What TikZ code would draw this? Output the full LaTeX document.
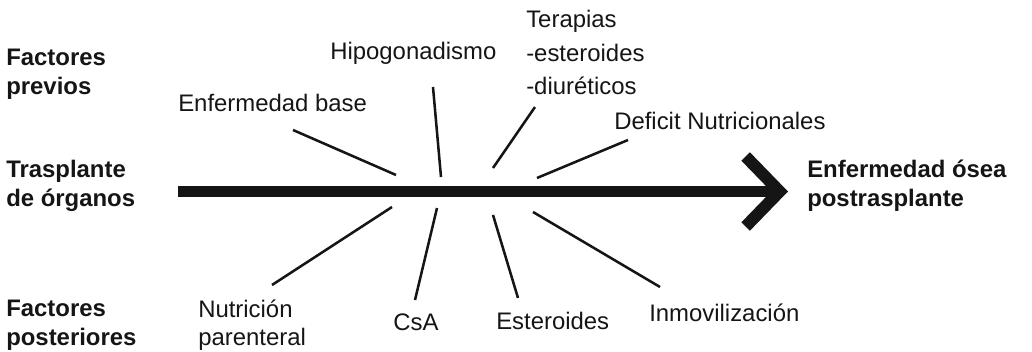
\documentclass[tikz,border=0pt]{standalone}
\usepackage{fontspec}
\setmainfont{Liberation Sans}
\usetikzlibrary{arrows.meta}
\definecolor{ink}{HTML}{151515}
\tikzset{
  every picture/.style={x=0.025cm, y=-0.025cm, line width=1.8pt},
  cause/.style={inner sep=0pt, anchor=base west, text=ink, align=left, font=\fontsize{17}{24}\selectfont},
  group/.style={inner sep=0pt, anchor=base west, text=ink, align=left, font=\fontsize{17}{21}\selectfont\bfseries},
  bone/.style={draw=ink, line width=1.8pt},
  spine/.style={draw=ink, line width=0.27cm, -{Straight Barb[length=0.85cm, width=1.75cm, line width=0.3cm]}},
}

\begin{document}
\begin{tikzpicture}
  \useasboundingbox (0,0) rectangle (1032,352);
  % ---- groups of factors, left, and the outcome, right ----
  \node[group] (prev) at (5,95) {Factores\\previos};
  \node[group] (tras) at (5,207) {Trasplante\\de órganos};
  \node[group] (post) at (5,346) {Factores\\posteriores};
  \node[group] (outc) at (806,207) {Enfermedad ósea\\postrasplante};
  % ---- causes above the spine ----
  \node[cause] (hipo) at (329,60) {Hipogonadismo};
  \node[cause] (enfb) at (177,112) {Enfermedad base};
  \node[cause] (tera) at (525,95) {Terapias\\-esteroides\\-diuréticos};
  \node[cause] (defi) at (613,130) {Deficit Nutricionales};
  % ---- causes below the spine ----
  \node[cause, font=\fontsize{17}{20}\selectfont] (nutr) at (197,346) {Nutrición\\parenteral};
  \node[cause, anchor=base] (csa) at (416,331) {CsA};
  \node[cause] (este) at (495,330) {Esteroides};
  \node[cause] (inmo) at (648,322) {Inmovilización};
  % ---- spine ----
  \coordinate (tail) at (178,191.5);
  \coordinate (head) at (788,191.5);
  \draw[spine] (tail) -- (head);
  % ---- bones ----
  \coordinate (enfb-a) at (293,130); \coordinate (enfb-b) at (396,175);
  \coordinate (hipo-a) at (433,87);  \coordinate (hipo-b) at (441,177);
  \coordinate (tera-a) at (535,107); \coordinate (tera-b) at (493,168);
  \coordinate (defi-a) at (628,140); \coordinate (defi-b) at (537,178);
  \coordinate (nutr-a) at (392,207); \coordinate (nutr-b) at (272,285);
  \coordinate (csa-a) at (437,208);  \coordinate (csa-b) at (415,300);
  \coordinate (este-a) at (493,215); \coordinate (este-b) at (518,298);
  \coordinate (inmo-a) at (533,212); \coordinate (inmo-b) at (660,287);
  \draw[bone] (enfb-a) -- (enfb-b); \draw[bone] (hipo-a) -- (hipo-b);
  \draw[bone] (tera-a) -- (tera-b); \draw[bone] (defi-a) -- (defi-b);
  \draw[bone] (nutr-a) -- (nutr-b); \draw[bone] (csa-a) -- (csa-b);
  \draw[bone] (este-a) -- (este-b); \draw[bone] (inmo-a) -- (inmo-b);
\end{tikzpicture}
\end{document}
